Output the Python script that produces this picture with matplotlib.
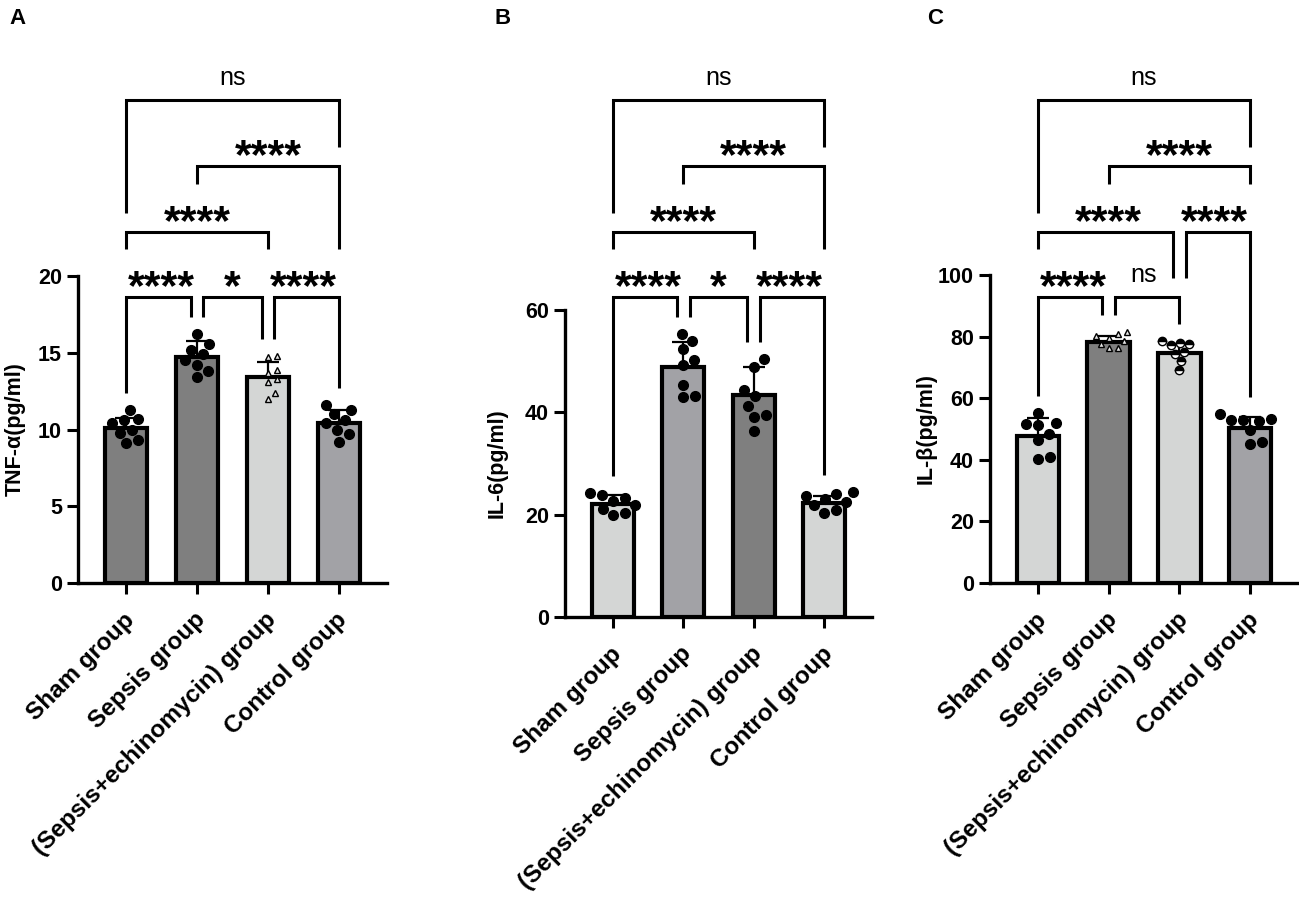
import matplotlib
matplotlib.use('Agg')
import matplotlib.pyplot as plt
from matplotlib.transforms import blended_transform_factory, ScaledTranslation
import numpy as np

plt.rcParams['font.family'] = ['Liberation Sans', 'DejaVu Sans']

groups = ['Sham group', 'Sepsis group', '(Sepsis+echinomycin) group', 'Control group']

# A: TNF-alpha
tnf_mean = [10.1, 14.7, 13.4, 10.4]
tnf_sd = [0.65, 1.05, 1.0, 0.85]
tnf_points = [
    [11.3, 10.7, 10.6, 10.4, 10.0, 9.8, 9.3, 9.1],
    [16.2, 15.6, 15.2, 14.9, 14.5, 14.2, 13.8, 13.4],
    [14.7, 14.8, 13.9, 13.7, 13.3, 13.1, 12.4, 12.0],
    [11.6, 11.3, 11.0, 10.6, 10.4, 10.0, 9.7, 9.2],
]

# B: IL-6
il6_mean = [22.1, 48.9, 43.4, 22.2]
il6_sd = [1.7, 4.9, 5.4, 1.5]
il6_points = [
    [24.2, 23.8, 23.3, 22.6, 21.8, 21.2, 20.3, 19.9],
    [55.4, 54.0, 52.4, 50.3, 49.3, 45.3, 43.1, 42.9],
    [50.4, 48.9, 44.3, 43.2, 41.2, 39.5, 39.1, 36.4],
    [24.4, 24.1, 23.6, 23.0, 22.4, 21.8, 21.0, 20.4],
]

# C: IL-beta
ilb_mean = [47.8, 78.2, 74.7, 50.3]
ilb_sd = [5.7, 2.0, 2.9, 3.7]
ilb_points = [
    [55.3, 51.8, 51.5, 51.2, 48.5, 46.5, 40.8, 40.2],
    [81.5, 80.8, 80.2, 79.6, 78.6, 77.6, 76.4, 76.2],
    [78.5, 78.0, 77.6, 77.2, 75.0, 74.5, 72.2, 69.3],
    [54.8, 53.2, 53.0, 52.8, 52.5, 49.6, 45.8, 45.2],
]

# comparisons: (group i, group j, label, tier)
cmp_ab = [(0, 1, '****', 0), (1, 2, '*', 0), (2, 3, '****', 0),
          (0, 2, '****', 1), (1, 3, '****', 2), (0, 3, 'ns', 3)]
cmp_c = [(0, 1, '****', 0), (1, 2, 'ns', 0), (0, 2, '****', 1),
         (2, 3, '****', 1), (1, 3, '****', 2), (0, 3, 'ns', 3)]

DARK, MID, LIGHT = '#7f7f7f', '#a2a2a6', '#d4d6d5'

W, H = 1299, 901
TIER_PX = [297, 232, 166, 100]
HALF = {'****': 0.53, '*': 0.17, 'ns': 0.25}
TEXT_TOP = {'****': 26, '*': 26, 'ns': 28}

fig = plt.figure(figsize=(W / 100, H / 100), dpi=100)


def fy(px):
    return 1 - px / H


def swarm(values, xpu, ypu, diam):
    # simple beeswarm in pixel space
    placed = []
    offs = np.zeros(len(values))
    for idx in np.argsort(values):
        y = values[idx] * ypu
        found = None
        for step in range(0, 80):
            for c in ([0] if step == 0 else [step, -step]):
                if all((c - px) ** 2 + (y - py) ** 2 >= diam ** 2 for px, py in placed):
                    found = c
                    break
            if found is not None:
                break
        placed.append((found, y))
        offs[idx] = found / xpu
    return offs


def panel(rect_px, letter, letter_px, ylabel, ylabel_x, ymax, yticks, mean, sd, points,
          colors, markers, comps):
    left, right, top, bottom = rect_px
    ax = fig.add_axes([left / W, 1 - bottom / H, (right - left) / W, (bottom - top) / H])
    x = np.arange(4)
    xlim = (-0.68, 3.68)
    ax.set_xlim(*xlim)
    ax.set_ylim(0, ymax)
    xpu = (right - left) / (xlim[1] - xlim[0])
    ypu = (bottom - top) / ymax

    ax.bar(x, mean, width=0.6, color=colors, edgecolor='black', linewidth=3, zorder=2)
    ax.errorbar(x, mean, yerr=[np.zeros(4), sd], fmt='none', ecolor='black',
                elinewidth=1.6, capsize=8, capthick=1.6, zorder=3)
    for k in range(4):
        vals = np.array(points[k])
        style = markers[k]
        diam = 12 if style == 'o' else 9
        offs = swarm(vals, xpu, ypu, diam)
        if style == 'o':
            ax.plot(k + offs, vals, 'o', color='black', ms=7, zorder=4, clip_on=False)
        elif style == '^':
            ax.plot(k + offs, vals, '^', mfc='#e6e6e6', mec='black', mew=1.0,
                    ms=5, ls='none', zorder=4)
        else:
            ax.plot(k + offs, vals, 'o', fillstyle='top', mfc='black', mfcalt='white',
                    mec='black', mew=1.0, ms=6, ls='none', zorder=4)

    for s in ['top', 'right']:
        ax.spines[s].set_visible(False)
    for s in ['left', 'bottom']:
        ax.spines[s].set_linewidth(2.4)
    ax.spines['left'].set_bounds(0, ymax)
    ax.set_yticks(yticks)
    ax.set_xticks(x)
    ax.tick_params(width=2.2, length=8, direction='out', labelsize=15.5)
    for t in ax.get_yticklabels():
        t.set_fontweight('bold')
    ax.set_xticklabels(groups, rotation=45, ha='right', va='center',
                       rotation_mode='anchor', fontsize=17.5, fontweight='bold')
    ax.tick_params(axis='x', pad=16)
    shift = ScaledTranslation(0.05, 0, fig.dpi_scale_trans)
    for t in ax.get_xticklabels():
        t.set_transform(t.get_transform() + shift)
    ax.set_ylabel(ylabel, fontsize=15.5, fontweight='bold')
    ax.yaxis.set_label_coords((ylabel_x - left) / (right - left), 0.5)

    fig.text(letter_px[0] / W, fy(letter_px[1]), letter, fontsize=16,
             fontweight='bold', ha='center', va='center')

    # significance brackets, y in figure pixels from the top
    trans = blended_transform_factory(ax.transData, fig.transFigure)
    data_px = []
    for k in range(4):
        v = max(mean[k] + sd[k], max(points[k]))
        data_px.append(bottom - v * ypu)

    def leg_bottom(k, tier):
        floor = data_px[k] - 17
        for i, j, lab, t in comps:
            if t < tier and i <= k <= j:
                tp = TIER_PX[t]
                if abs(k - (i + j) / 2) <= HALF[lab]:
                    cand = tp - TEXT_TOP[lab] - 22
                else:
                    cand = tp - 19
                floor = min(floor, cand)
        return floor

    for i, j, lab, t in comps:
        shared_i = any(c[3] == t and c[1] == i for c in comps)
        shared_j = any(c[3] == t and c[0] == j for c in comps)
        xl = i + (0.09 if shared_i else 0)
        xr = j - (0.09 if shared_j else 0)
        tp = TIER_PX[t]
        ax.plot([xl, xl, xr, xr],
                [fy(leg_bottom(i, t)), fy(tp), fy(tp), fy(leg_bottom(j, t))],
                transform=trans, color='black', lw=2.2, clip_on=False,
                solid_joinstyle='miter', solid_capstyle='butt')
        if lab == 'ns':
            ax.text((i + j) / 2, fy(tp - 15), lab, transform=trans, ha='center',
                    va='baseline', fontsize=18)
        else:
            ax.text((i + j) / 2, fy(tp + 2), lab, transform=trans, ha='center',
                    va='baseline', fontsize=31, fontweight='bold')
    return ax


panel((78, 387, 276, 583), 'A', (17, 18), 'TNF-α(pg/ml)', 26, 20, [0, 5, 10, 15, 20],
      tnf_mean, tnf_sd, tnf_points, [DARK, DARK, LIGHT, MID],
      ['o', 'o', '^', 'o'], cmp_ab)
panel((565, 872, 310, 617), 'B', (503, 18), 'IL-6(pg/ml)', 508, 60, [0, 20, 40, 60],
      il6_mean, il6_sd, il6_points, [LIGHT, MID, DARK, LIGHT],
      ['o', 'o', 'o', 'o'], cmp_ab)
panel((990, 1298, 275, 583), 'C', (935, 18), 'IL-β(pg/ml)', 937, 100,
      [0, 20, 40, 60, 80, 100],
      ilb_mean, ilb_sd, ilb_points, [LIGHT, DARK, LIGHT, MID],
      ['o', '^', 'h', 'o'], cmp_c)

fig.savefig('out.png', dpi=100)
